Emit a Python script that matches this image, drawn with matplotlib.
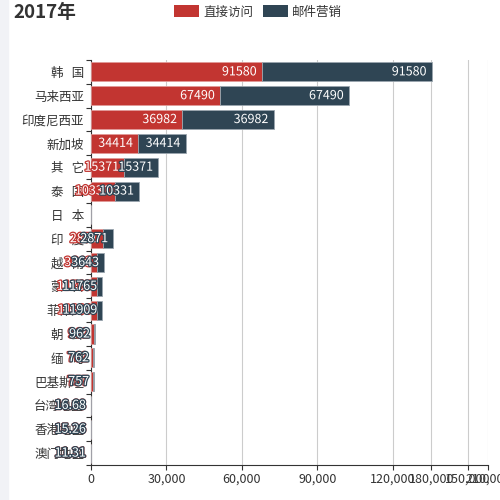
import matplotlib
matplotlib.use("Agg")
import matplotlib.pyplot as plt
import matplotlib.patheffects as pe
from matplotlib.patches import Rectangle, Patch

plt.rcParams['font.family'] = ['Noto Sans CJK SC', 'DejaVu Sans']

# data (bar lengths are what is drawn, labels are the printed values)
categories = ["韩   国", "马来西亚", "印度尼西亚", "新加坡", "其   它", "泰   国", "日   本",
              "印   度", "越   南", "蒙   古", "菲律宾", "朝   鲜", "缅   甸", "巴基斯坦",
              "台湾地区", "香港地区", "澳门地区"]
direct_len = [67950, 51260, 36280, 18800, 13230, 9540, 0, 4650, 2500, 2260, 2500,
              1190, 800, 800, 0, 0, 0]
mail_len = [67550, 51260, 36320, 18840, 13510, 9660, 0, 4210, 2780, 2230, 2000,
            400, 400, 400, 0, 0, 0]
direct_lab = ["91580", "67490", "36982", "34414", "15371", "10331", "", "2871", "3643",
              "11765", "11909", "962", "762", "757", "16.68", "15.26", "11.31"]
mail_lab = ["91580", "67490", "36982", "34414", "15371", "10331", "", "2871", "3643",
            "11765", "11909", "962", "762", "757", "16.68", "15.26", "11.31"]
x_ticks = [0, 30000, 60000, 90000, 120000, 135400, 149900, 157900]
x_tick_labels = ["0", "30,000", "60,000", "90,000", "120,000", "180,000", "150,000", "210,000"]

red = "#c23531"
navy = "#2f4554"

fig = plt.figure(figsize=(5, 5), dpi=100)
fig.patches.append(Rectangle((0, 0), 8 / 500, 1, transform=fig.transFigure,
                             color="#f1f2f6", zorder=0))
ax = fig.add_axes([91 / 500, 35 / 500, 397 / 500, 405 / 500])

y = list(range(len(categories)))
ax.barh(y, direct_len, height=0.8, color=red, edgecolor="#e09a98", linewidth=0.6, zorder=3)
ax.barh(y, mail_len, left=direct_len, height=0.8, color=navy, edgecolor="#9aa5ae",
        linewidth=0.6, zorder=3)

ends_red = direct_len
ends_blue = [a + b for a, b in zip(direct_len, mail_len)]
for i in y:
    if direct_lab[i]:
        ax.annotate(direct_lab[i], (ends_red[i], i), xytext=(-3.6, 0),
                    textcoords="offset points", ha="right", va="center",
                    fontsize=9, color="white", zorder=6, annotation_clip=False,
                    path_effects=[pe.withStroke(linewidth=1.8, foreground=red)])
for i in y:
    if mail_lab[i]:
        ax.annotate(mail_lab[i], (ends_blue[i], i), xytext=(-3.6, 0),
                    textcoords="offset points", ha="right", va="center",
                    fontsize=9, color="white", zorder=7, annotation_clip=False,
                    path_effects=[pe.withStroke(linewidth=1.8, foreground=navy)])

ax.set_ylim(len(categories) - 0.5, -0.5)
ax.set_yticks(y)
ax.set_yticklabels(categories, fontsize=9, color="#333333")
ax.set_yticks([i - 0.5 for i in range(len(categories) + 1)], minor=True)
ax.tick_params(axis="y", which="major", length=0, pad=5)
ax.tick_params(axis="y", which="minor", length=3.6, width=0.8, color="#333333")

ax.set_xlim(0, 157900)
ax.set_xticks(x_ticks)
ax.set_xticklabels(x_tick_labels, fontsize=9, color="#333333")
ax.tick_params(axis="x", length=3.6, width=0.8, color="#333333", pad=2)
ax.grid(axis="x", color="#cccccc", linewidth=0.8, zorder=0)
ax.set_axisbelow(True)

for s in ["top", "right"]:
    ax.spines[s].set_visible(False)
for s in ["left", "bottom"]:
    ax.spines[s].set_color("#333333")
    ax.spines[s].set_linewidth(0.8)

fig.text(13 / 500, 1 - 13 / 500, "2017年", fontsize=13.5, fontweight="bold",
         color="#333333", va="center", ha="left")
handles = [Patch(facecolor=red, label="直接访问"), Patch(facecolor=navy, label="邮件营销")]
fig.legend(handles=handles, loc="center", bbox_to_anchor=(258 / 500, 1 - 12 / 500),
           ncol=2, frameon=False, fontsize=9, handlelength=2.0, handleheight=1.1,
           handletextpad=0.35, columnspacing=0.8, labelcolor="#333333")

fig.savefig("out.png", dpi=100)
